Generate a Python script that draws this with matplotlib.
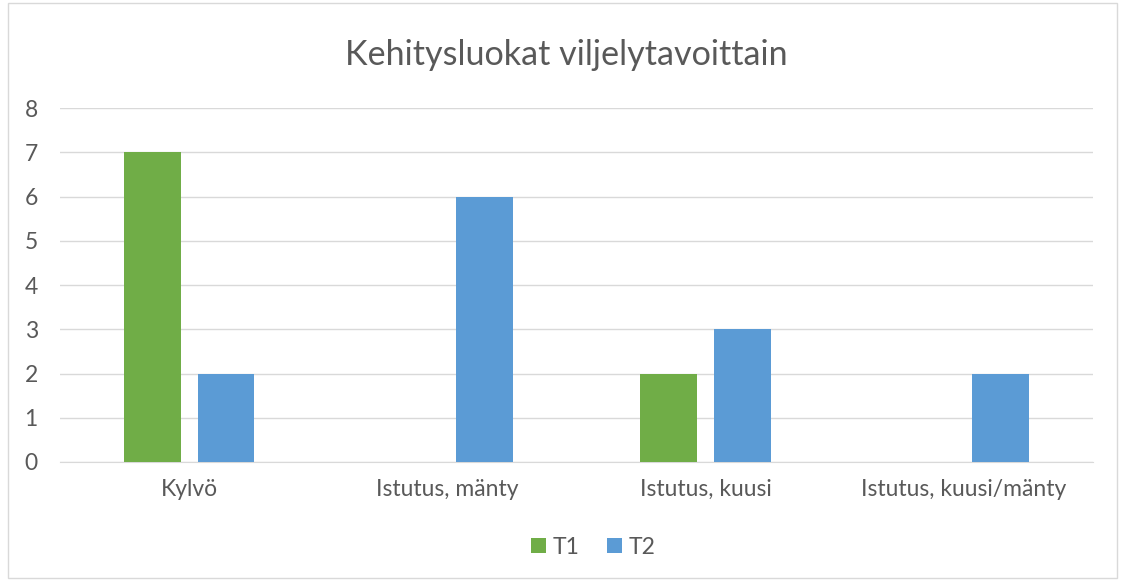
import matplotlib
matplotlib.use("Agg")
import matplotlib.pyplot as plt
import numpy as np

categories = ["Kylvö", "Istutus, mänty", "Istutus, kuusi", "Istutus, kuusi/mänty"]
t1 = [7, 0, 2, 0]
t2 = [2, 6, 3, 2]
series_names = ["T1", "T2"]
colors = ["#70AD47", "#5B9BD5"]
title = "Kehitysluokat viljelytavoittain"

plt.rcParams['font.family'] = ['Lato', 'DejaVu Sans']
W, H = 1121, 581
fig = plt.figure(figsize=(W/100, H/100), dpi=100)
ax = fig.add_axes([60/W, 1-462/H, (1093-60)/W, (462-108)/H])

x = np.arange(len(categories))
bw = 0.22
off = 0.143
ax.bar(x - off, t1, bw, color=colors[0], label=series_names[0], zorder=3)
ax.bar(x + off, t2, bw, color=colors[1], label=series_names[1], zorder=3)

ax.set_xlim(-0.5, len(categories) - 0.5)
ax.set_ylim(0, 8)
ax.set_yticks(range(0, 9))
ax.yaxis.grid(True, color="#D9D9D9", linewidth=1, zorder=0)
ax.set_axisbelow(True)
for s in ["top", "right", "left"]:
    ax.spines[s].set_visible(False)
ax.spines["bottom"].set_color("#D9D9D9")
ax.set_xticks(x)
ax.set_xticklabels(categories)
ax.tick_params(axis="both", length=0, labelsize=16.5, colors="#595959")
ax.tick_params(axis="x", pad=12)
ax.tick_params(axis="y", pad=16)

fig.text(566/W, 1-55/H, title, ha="center", va="center", fontsize=24.6, color="#595959")

leg = fig.legend(loc="center", bbox_to_anchor=(593/W, 1-547/H), ncol=2, frameon=False,
                 fontsize=16.5, handlelength=0.65, handleheight=0.65, columnspacing=1.2,
                 handletextpad=0.3)
for t in leg.get_texts():
    t.set_color("#595959")

border = plt.Rectangle((8/W, 3/H), (1117-8)/W, (578-3)/H, transform=fig.transFigure,
                       fill=False, edgecolor="#D9D9D9", linewidth=1)
fig.patches.append(border)

fig.savefig("out.png", dpi=100)
